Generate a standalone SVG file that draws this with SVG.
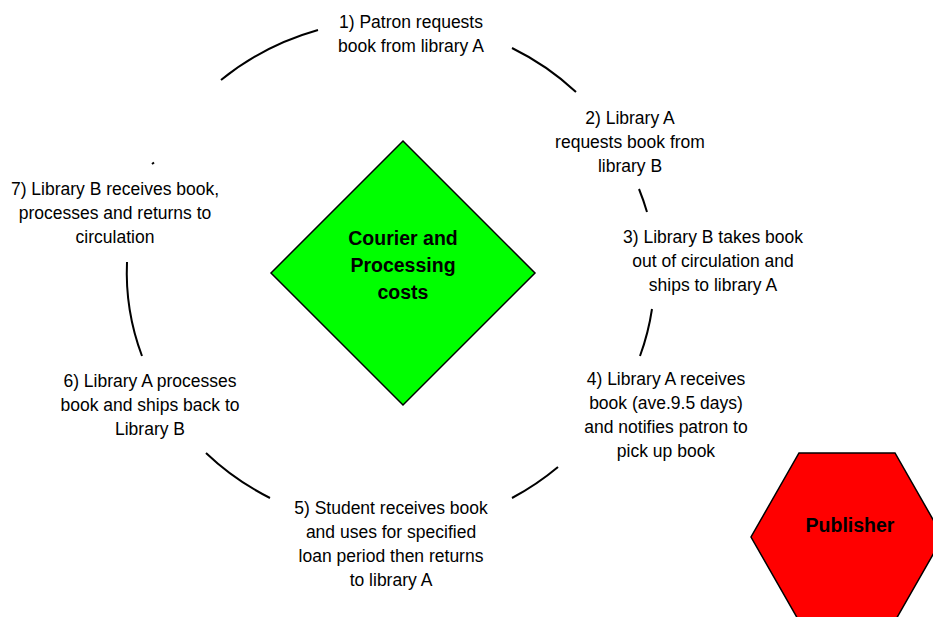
<svg xmlns="http://www.w3.org/2000/svg" width="933" height="617" viewBox="0 0 933 617">
<style>
.t{font-family:"Liberation Sans",Arial,sans-serif;font-size:17.5px;fill:#000;text-anchor:middle}
.b{font-family:"Liberation Sans",Arial,sans-serif;font-size:19.5px;font-weight:bold;fill:#000;text-anchor:middle}
.arc{fill:none;stroke:#000;stroke-width:2}
</style>
<rect width="933" height="617" fill="#fff"/>
<g id="connectors">
<path class="arc" d="M221,80 A265,250 0 0 1 318,30"/>
<path class="arc" d="M512,48 A265,250 0 0 1 576,92"/>
<path class="arc" d="M639,189 A265,250 0 0 1 647,212"/>
<path class="arc" d="M652,309 A265,250 0 0 1 640,356"/>
<path class="arc" d="M558,467 A265,250 0 0 1 512,498"/>
<path class="arc" d="M270,498 A265,250 0 0 1 206,453"/>
<path class="arc" d="M142,356 A265,250 0 0 1 127,262"/>
<path class="arc" d="M152,164 L154,162.5"/>
</g>
<g id="costs">
<polygon points="403,141 535,273 403,405 271,273" fill="#00ff00" stroke="#000" stroke-width="1.5"/>
<text class="b" x="403" y="245">Courier and</text>
<text class="b" x="403" y="272">Processing</text>
<text class="b" x="403" y="299">costs</text>
</g>
<g id="publisher">
<polygon points="799,453 895,453 943,537 895,621 799,621 751,537" fill="#ff0000" stroke="#000" stroke-width="1.5"/>
<text class="b" x="850" y="532">Publisher</text>
</g>
<g id="step1">
<text class="t" x="411" y="28">1) Patron requests</text>
<text class="t" x="411" y="52">book from library A</text>
</g>
<g id="step2">
<text class="t" x="630" y="124">2) Library A</text>
<text class="t" x="630" y="148">requests book from</text>
<text class="t" x="630" y="172">library B</text>
</g>
<g id="step3">
<text class="t" x="713" y="243">3) Library B takes book</text>
<text class="t" x="713" y="267">out of circulation and</text>
<text class="t" x="713" y="291">ships to library A</text>
</g>
<g id="step4">
<text class="t" x="666" y="385">4) Library A receives</text>
<text class="t" x="666" y="409">book  (ave.9.5 days)</text>
<text class="t" x="666" y="433">and notifies patron to</text>
<text class="t" x="666" y="457">pick up book</text>
</g>
<g id="step5">
<text class="t" x="391" y="514">5) Student receives book</text>
<text class="t" x="391" y="538">and uses for specified</text>
<text class="t" x="391" y="562">loan period then returns</text>
<text class="t" x="391" y="586">to library A</text>
</g>
<g id="step6">
<text class="t" x="150" y="387">6) Library A processes</text>
<text class="t" x="150" y="411">book and ships back to</text>
<text class="t" x="150" y="435">Library B</text>
</g>
<g id="step7">
<text class="t" x="115" y="195">7) Library B receives book,</text>
<text class="t" x="115" y="219">processes and returns to</text>
<text class="t" x="115" y="243">circulation</text>
</g>
</svg>
